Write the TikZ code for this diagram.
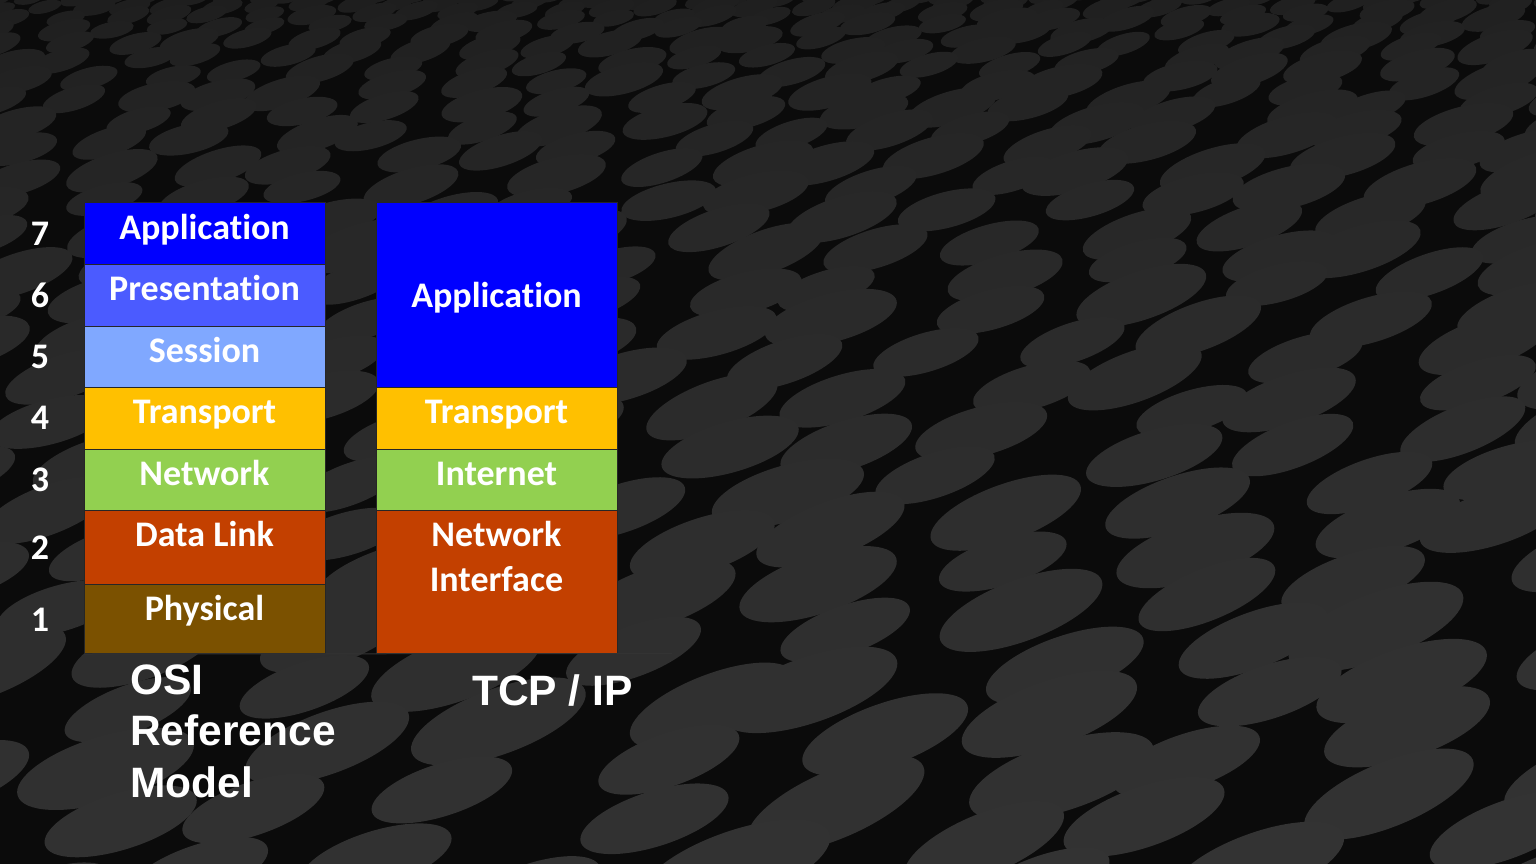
\documentclass[tikz,border=0pt]{standalone}
\usepackage{fontspec}
\setmainfont{Carlito}[Ligatures=NoCommon]
\newfontfamily\titlefont{Liberation Sans}

\definecolor{bgbase}{HTML}{0B0B0B}
\definecolor{appblue}{HTML}{0000FF}
\definecolor{presblue}{HTML}{4B5BFF}
\definecolor{sessblue}{HTML}{80A8FF}
\definecolor{transyellow}{HTML}{FFC000}
\definecolor{netgreen}{HTML}{92D050}
\definecolor{linkred}{HTML}{C34000}
\definecolor{physbrown}{HTML}{7B5100}

\begin{document}
\begin{tikzpicture}[x=1pt,y=-1pt,
  layer/.style={draw=black!85, line width=1pt, anchor=north west, inner sep=0pt, minimum width=241pt},
  lyrtext/.style={text=white, font=\fontsize{36}{45}\selectfont\bfseries, anchor=base, inner sep=0pt, align=center},
  numtext/.style={text=white, font=\fontsize{36}{40}\selectfont\bfseries, anchor=base, inner sep=0pt},
  caption/.style={text=white, font=\titlefont\fontsize{42.5}{51.5}\selectfont\bfseries, anchor=base west, inner sep=0pt, align=left}]

\useasboundingbox (0,0) rectangle (1536,864);
\fill[bgbase] (0,0) rectangle (1536,864);

% textured floor of tilted discs; rows grow towards the bottom and rise to the right,
% with a fixed-seed jitter so the discs do not line up in columns
\pgfmathsetseed{4217}
\begin{scope}
\clip (0,0) rectangle (1536,864);
\foreach \j in {0,...,32}{
  \pgfmathsetmacro\yy{-10+3*\j+1.05*\j*\j}
  \pgfmathsetmacro\s{min(0.12+0.03*\j,1.05)}
  \pgfmathsetmacro\rx{90*\s}
  \pgfmathsetmacro\ry{32*\s}
  \pgfmathsetmacro\dx{2.3*\rx}
  \pgfmathsetmacro\slope{0.0042*\j}
  \pgfmathsetmacro\ang{12+0.3*\j}
  \pgfmathsetmacro\off{(rnd-1)*\dx}
  \pgfmathtruncatemacro\n{1800/\dx+2}
  \pgfmathsetmacro\g{min(11+0.3*\j,20.5)}
  \foreach \i in {0,...,\n}{
    \pgfmathsetmacro\k{0.85+0.3*rnd}
    \pgfmathsetmacro\cx{\off+\i*\dx+0.25*rand*\dx}
    \pgfmathsetmacro\cy{\yy-\slope*\cx+0.2*rand*\ry}
    \fill[white!\g!black, rotate around={\ang+3*rand:(\cx,\cy)}]
      (\cx,\cy) ellipse [x radius=\k*\rx, y radius=\k*\ry];
  }
}
\end{scope}

% OSI reference model stack
\node[layer, fill=appblue,     minimum height=62] (osi7) at (84,202) {};
\node[layer, fill=presblue,    minimum height=62] (osi6) at (84,264) {};
\node[layer, fill=sessblue,    minimum height=61] (osi5) at (84,326) {};
\node[layer, fill=transyellow, minimum height=62] (osi4) at (84,387) {};
\node[layer, fill=netgreen,    minimum height=61] (osi3) at (84,449) {};
\node[layer, fill=linkred,     minimum height=74] (osi2) at (84,510) {};
\node[layer, fill=physbrown,   minimum height=69] (osi1) at (84,584) {};

\node[lyrtext] (osi7t) at (204.5,239) {Application};
\node[lyrtext] (osi6t) at (204.5,300) {Presentation};
\node[lyrtext] (osi5t) at (204.5,362) {Session};
\node[lyrtext] (osi4t) at (204.5,423) {Transport};
\node[lyrtext] (osi3t) at (204.5,485) {Network};
\node[lyrtext] (osi2t) at (204.5,546) {Data Link};
\node[lyrtext] (osi1t) at (204.5,620) {Physical};

% layer numbers
\node[numtext] (n7) at (40,245) {7};
\node[numtext] (n6) at (40,307) {6};
\node[numtext] (n5) at (40,368) {5};
\node[numtext] (n4) at (40,429) {4};
\node[numtext] (n3) at (40,491) {3};
\node[numtext] (n2) at (40,559) {2};
\node[numtext] (n1) at (40,631) {1};

% TCP/IP stack
\node[layer, fill=appblue,     minimum height=185] (tcp4) at (376,202) {};
\node[layer, fill=transyellow, minimum height=62]  (tcp3) at (376,387) {};
\node[layer, fill=netgreen,    minimum height=61]  (tcp2) at (376,449) {};
\node[layer, fill=linkred,     minimum height=143] (tcp1) at (376,510) {};

\node[lyrtext] (tcp4t) at (496.5,307) {Application};
\node[lyrtext] (tcp3t) at (496.5,423) {Transport};
\node[lyrtext] (tcp2t) at (496.5,485) {Internet};
% base anchor of a two-line node sits on its last line
\node[lyrtext] (tcp1t) at (496.5,591) {Network\\Interface};

% base line under both stacks
\coordinate (baseend) at (672,653.5);
\draw[black!80, line width=1pt] (osi1.south west) -- (baseend);

% captions
\node[caption] (osicap) at (130,797) {OSI\\Reference\\Model};
\node[caption] (tcpcap) at (472,705) {TCP / IP};

\end{tikzpicture}
\end{document}
